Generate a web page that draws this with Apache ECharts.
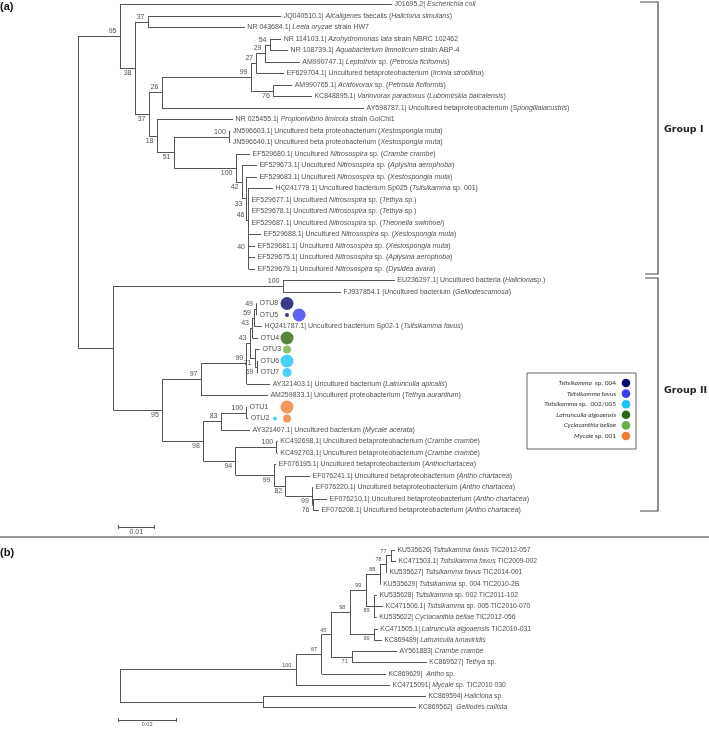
<!DOCTYPE html>
<html>
<head>
<meta charset="utf-8">
<script src="https://cdn.jsdelivr.net/npm/echarts@6/dist/echarts.min.js"></script>
<style>
  html, body { margin: 0; padding: 0; background: #fff; }
  #chart { width: 709px; height: 730px; }
</style>
</head>
<body>
<div id="chart"></div>
<script>
// ---------- tree (a): leaves, top to bottom ----------
const leafLabelsA = [
  'J01695.2| {i|Escherichia coli}',
  'JQ040510.1| {i|Alcaligenes} faecalis ({i|Haliclona simulans})',
  'NR 043684.1| {i|Leeia oryzae} strain HW7',
  'NR 114103.1| {i|Azohydromonas lata} strain NBRC 102462',
  'NR 108739.1| {i|Aquabacterium limnoticum} strain ABP-4',
  'AM990747.1| {i|Leptothrix} sp. ({i|Petrosia ficiformis})',
  'EF629704.1| Uncultured betaproteobacterium ({i|Ircinia strobilina})',
  'AM990765.1| {i|Acidovorax} sp. ({i|Petrosia ficiformis})',
  'KC848895.1| {i|Variovorax paradoxus} ({i|Lubomirskia baicalensis})',
  'AY598787.1| Uncultured betaproteobacterium ({i|Spongillalacustris})',
  'NR 025455.1| {i|Propionivibrio limicola} strain GolChi1',
  'JN596603.1| Uncultured beta proteobacterium ({i|Xestospongia muta})',
  'JN596640.1| Uncultured beta proteobacterium ({i|Xestospongia muta})',
  'EF529680.1| Uncultured {i|Nitrosospira} sp. ({i|Crambe crambe})',
  'EF529673.1| Uncultured {i|Nitrosospira} sp. ({i|Aplysina aerophoba})',
  'EF529683.1| Uncultured {i|Nitrosospira} sp. ({i|Xestospongia muta})',
  'HQ241779.1| Uncultured bacterium Sp025 ({i|Tsitsikamma} sp. 001)',
  'EF529677.1| Uncultured {i|Nitrosospira} sp. ({i|Tethya} sp.)',
  'EF529678.1| Uncultured {i|Nitrosospira} sp. ({i|Tethya} sp.)',
  'EF529687.1| Uncultured {i|Nitrosospira} sp. ({i|Theonella swinhoei})',
  'EF529688.1| Uncultured {i|Nitrosospira} sp. ({i|Xestospongia muta})',
  'EF529681.1| Uncultured {i|Nitrosospira} sp. ({i|Xestospongia muta})',
  'EF529675.1| Uncultured {i|Nitrosospira} sp. ({i|Aplysina aerophoba})',
  'EF529679.1| Uncultured {i|Nitrosospira} sp. ({i|Dysidea avara})',
  'EU236297.1| Uncultured bacteria ({i|Haliclona}sp.)',
  'FJ937854.1 |Uncultured bacterium ({i|Gelliodescamosa})',
  'OTU8',
  'OTU5',
  'HQ241787.1| Uncultured bacterium Sp02-1 ({i|Tsitsikamma favus})',
  'OTU4',
  'OTU3',
  'OTU6',
  'OTU7',
  'AY321403.1| Uncultured bacterium ({i|Latrunculia apicalis})',
  'AM259833.1| Uncultured proteobacterium ({i|Tethya aurantium})',
  'OTU1',
  'OTU2',
  'AY321407.1| Uncultured bacterium ({i|Mycale acerata})',
  'KC492698.1| Uncultured betaproteobacterium ({i|Crambe crambe})',
  'KC492703.1| Uncultured betaproteobacterium ({i|Crambe crambe})',
  'EF076195.1| Uncultured betaproteobacterium ({i|Anthochartacea})',
  'EF076241.1| Uncultured betaproteobacterium ({i|Antho chartacea})',
  'EF076220.1| Uncultured betaproteobacterium ({i|Antho chartacea})',
  'EF076210.1| Uncultured betaproteobacterium ({i|Antho chartacea})',
  'EF076208.1| Uncultured betaproteobacterium ({i|Antho chartacea})'
];
const leafParentA = ['A','D','D','T','T','S','P','Q','Q','F','G','J','J','K','L','M','N','N','N','N',
  'O','O','O','O','U','U','X49','X49','X59','X43','X71','X69','X69','Y','W','AC','AC','AA','AD','AD',
  'AE','AF','AG','AH','AH'];
// tip position (distance from root, substitutions/site)
const leafTipA = [0.0856,0.0554,0.0455,0.0554,0.0573,0.0605,0.0562,0.0584,0.0638,0.0780,
  0.0423,0.0415,0.0415,0.0469,0.0488,0.0488,0.0532,0.0466,0.0466,0.0466,
  0.0499,0.0483,0.0483,0.0483,0.0864,0.0717,0.0488,0.0488,0.0502,0.0491,
  0.0496,0.0491,0.0491,0.0524,0.0518,0.0461,0.0464,0.0469,0.0545,0.0545,
  0.0540,0.0633,0.0641,0.0679,0.0657];

// internal nodes of tree (a)
const nodeIdA = ['R','A','C','D','E','F','H','P','S','T','Q','G','I','J','K','L','M','N','O',
  'B','U','V','W','Y','Y43','X43','X59','X49','X71','X69','X','AA','AC','AB','AD','AE','AF','AG','AH'];
const nodeParentA = ['','R','A','C','C','E','F','H','P','S','H','E','G','I','I','K','L','M','N',
  'R','B','B','V','W','Y','Y43','X43','X59','Y43','X71','V','X','AA','X','AB','AB','AE','AF','AG'];
const nodeDepthA = [0,0.01145,0.01554,0.01909,0.01936,0.0229,0.04718,0.04873,0.0510,0.05236,0.05326,
  0.02154,0.02618,0.04126,0.04309,0.04472,0.04581,0.04636,0.0465,
  0.00963,0.0559,0.02299,0.03354,0.046,0.0469,0.04759,0.04813,0.04868,0.04827,0.04881,
  0.03417,0.039,0.046,0.043,0.05419,0.05345,0.05664,0.06389,0.06409];
const nodeBootA = ['',95,38,37,37,26,99,27,29,54,76,18,51,100,100,42,33,46,40,
  '',100,95,97,99,43,43,59,49,71,69,98,83,100,94,100,99,82,99,76];
const bootBelowA = ['C','E','G','I','K','L','M','Q','V','X','AB','AE','AF','AG','AH','X71','X69'];

// sponge OTU markers (leaf, species index, size, slot next to the label)
const markLeaf = ['OTU8','OTU5','OTU5','OTU4','OTU3','OTU6','OTU7','OTU1','OTU2','OTU2'];
const markSpecies = [0,0,1,3,4,2,2,5,2,5];
const markSize = [13,4,13,13,8,13,9,13,4,8];
const markSlot = [0,0,1,0,0,0,0,0,-1,0];

const speciesNames = ['{i|Tsitsikamma}  sp. 004','{i|Tsitsikamma favus}','{i|Tsitsikamma} sp.  002/005',
  '{i|Latrunculia algoaensis}','{i|Cyclacanthia bellae}','{i|Mycale} sp. 001'];
const speciesColors = ['#0a0a6e','#3c3cf2','#19c6f5','#2c6610','#6fae47','#ee7d31'];
const groupNames = ['Group I', 'Group II'];

// ---------- tree (b) ----------
const leafLabelsB = [
  'KU535626| {i|Tsitsikamma favus} TIC2012-057',
  'KC471503.1| {i|Tsitsikamma favus} TIC2009-002',
  'KU535627| {i|Tsitsikamma favus} TIC2014-001',
  'KU535629| {i|Tsitsikamma} sp. 004 TIC2010-2B',
  'KU535628| {i|Tsitsikamma} sp. 002 TIC2011-102',
  'KC471506.1| {i|Tsitsikamma} sp. 005 TIC2010-070',
  'KU535622| {i|Cyclacanthia bellae} TIC2012-056',
  'KC471505.1| {i|Latrunculia algoaensis} TIC2010-031',
  'KC869489| {i|Latrunculia lunaviridis}',
  'AY561883| {i|Crambe crambe}',
  'KC869527| {i|Tethya} sp.',
  'KC869629|  {i|Antho} sp.',
  'KC4715091| {i|Mycale} sp. TIC2010 030',
  'KC869594| {i|Haliclona} sp.',
  'KC869562|  {i|Gelliodes callista}'
];
const leafParentB = ['n77','n77','n78','n88','n89','n89','n89','Hb','Hb','Fb','Fb','Cb','Bb1','Bb2','Bb2'];
const leafTipB = [0.0943,0.0946,0.0915,0.0894,0.0881,0.0902,0.0880,0.0884,0.0898,0.0950,
  0.1052,0.0912,0.0926,0.1049,0.1015];
const nodeIdB = ['Rb','Bb1','Cb','Db','Eb','Gb','n88','n78','n77','n89','Hb','Fb','Bb2'];
const nodeParentB = ['','Rb','Bb1','Cb','Db','Eb','Gb','n88','n78','Gb','Eb','Db','Rb'];
const nodeDepthB = [0,0.0603,0.0691,0.0723,0.0788,0.0843,0.0891,0.0912,0.0929,0.0871,0.0871,0.0796,0.0491];
const nodeBootB = ['',100,67,45,98,99,88,78,77,89,99,71,''];
const bootBelowB = ['n89','Hb','Fb'];

// scale bars: [start, length, row]
const scaleA = [0.0109, 0.01, 45.43];
const scaleB = [-0.0007, 0.02, 15.1];

const FONT = '"Liberation Sans", Arial, sans-serif';
const LINE = '#555';
const TEXT = '#222';

function layoutTree(ids, parents, depths, leafParent, leafTip) {
  const kids = {};
  const depth = {};
  ids.forEach((id, i) => { kids[id] = []; depth[id] = depths[i]; });
  leafParent.forEach((p, i) => kids[p].push({ leaf: i }));
  parents.forEach((p, i) => { if (p) kids[p].push({ node: ids[i] }); });
  const yOf = {};
  function y(id) {
    if (yOf[id] === undefined) {
      const ys = kids[id].map(k => k.leaf !== undefined ? k.leaf : y(k.node));
      yOf[id] = (Math.min(...ys) + Math.max(...ys)) / 2;
    }
    return yOf[id];
  }
  const segs = [];
  ids.forEach((id, i) => {
    const ys = kids[id].map(k => k.leaf !== undefined ? k.leaf : y(k.node));
    segs.push({ coords: [[depth[id], Math.min(...ys)], [depth[id], Math.max(...ys)]] });
    if (parents[i]) segs.push({ coords: [[depth[parents[i]], y(id)], [depth[id], y(id)]] });
  });
  leafParent.forEach((p, i) => segs.push({ coords: [[depth[p], i], [leafTip[i], i]] }));
  return { y, depth, segs };
}

function scaleSegs(s) {
  const [x0, len, row] = s;
  return [
    { coords: [[x0, row], [x0 + len, row]] },
    { coords: [[x0, row - 0.17], [x0, row + 0.17]] },
    { coords: [[x0 + len, row - 0.17], [x0 + len, row + 0.17]] }
  ];
}

const treeA = layoutTree(nodeIdA, nodeParentA, nodeDepthA, leafParentA, leafTipA);
const treeB = layoutTree(nodeIdB, nodeParentB, nodeDepthB, leafParentB, leafTipB);

function leafSeries(labels, tips, gi, size) {
  return {
    type: 'scatter', xAxisIndex: gi, yAxisIndex: gi, symbolSize: 1, silent: true,
    itemStyle: { color: 'rgba(0,0,0,0)' },
    label: {
      show: true, position: 'right', distance: 2, formatter: p => p.name,
      fontSize: size, fontFamily: FONT, color: TEXT,
      rich: { i: { fontStyle: 'italic', fontSize: size, fontFamily: FONT, color: TEXT } }
    },
    data: labels.map((l, i) => ({ name: l, value: [tips[i], i] }))
  };
}

function bootSeries(tree, ids, boots, below, gi, size, dist, dy) {
  const data = [];
  ids.forEach((id, i) => {
    if (boots[i] === '') return;
    data.push({
      name: String(boots[i]), value: [tree.depth[id], tree.y(id)],
      label: { offset: [0, below.includes(id) ? dy : -dy] }
    });
  });
  return {
    type: 'scatter', xAxisIndex: gi, yAxisIndex: gi, symbolSize: 1, silent: true,
    itemStyle: { color: 'rgba(0,0,0,0)' },
    label: { show: true, position: 'left', distance: dist, formatter: '{b}',
      fontSize: size, fontFamily: FONT, color: TEXT },
    data
  };
}

const markCol = 0.0570;
const markStep = 0.0033;
const markData = markLeaf.map((l, i) => ({
  value: [markCol + markSlot[i] * markStep, leafLabelsA.indexOf(l)],
  symbolSize: markSize[i],
  itemStyle: { color: speciesColors[markSpecies[i]] }
}));

const legendX = 527, legendY = 373, legendW = 109, legendH = 76, legendRow = 10.6;
const groupFont = 'bold 9.5px "DejaVu Sans", sans-serif';
const graphics = [
  { type: 'text', left: 0, top: 1, style: { text: '(a)', font: 'bold 11px ' + FONT, fill: '#111' } },
  { type: 'text', left: 0, top: 547, style: { text: '(b)', font: 'bold 11px ' + FONT, fill: '#111' } },
  { type: 'line', shape: { x1: 0, y1: 537, x2: 709, y2: 537 }, style: { stroke: '#777', lineWidth: 1.5 } },
  { type: 'polyline', shape: { points: [[640, 2], [658, 2], [658, 274], [645, 274]] },
    style: { stroke: '#444', lineWidth: 1.2, fill: null } },
  { type: 'polyline', shape: { points: [[645, 278], [658, 278], [658, 511], [640, 511]] },
    style: { stroke: '#444', lineWidth: 1.2, fill: null } },
  { type: 'text', x: 664, y: 130, style: { text: groupNames[0], font: groupFont, fill: '#222', verticalAlign: 'middle' } },
  { type: 'text', x: 664, y: 391, style: { text: groupNames[1], font: groupFont, fill: '#222', verticalAlign: 'middle' } },
  { type: 'rect', shape: { x: legendX, y: legendY, width: legendW, height: legendH },
    style: { stroke: '#666', fill: '#fff', lineWidth: 1 } }
];
speciesNames.forEach((n, i) => {
  const cy = legendY + 10 + i * legendRow;
  graphics.push({
    type: 'text', x: legendX + 89, y: cy,
    style: { text: n, align: 'right', verticalAlign: 'middle', fontSize: 6.5, fontFamily: 'Lato, sans-serif', fill: '#333',
      rich: { i: { fontStyle: 'italic', fontSize: 6.5, fontFamily: 'Lato, sans-serif', fill: '#333' } } }
  });
  graphics.push({
    type: 'circle', shape: { cx: legendX + 99, cy: cy, r: 4.3 }, style: { fill: speciesColors[i] }
  });
});

const chart = echarts.init(document.getElementById('chart'));
chart.setOption({
  animation: false,
  backgroundColor: '#fff',
  grid: [
    { left: 78, top: 4.5, width: 0.17 * 3667, height: 46 * 11.5 },
    { left: 120 - 0.002 * 2917, top: 550, width: 0.202 * 2917, height: 16 * 11.26 }
  ],
  xAxis: [
    { type: 'value', gridIndex: 0, min: 0, max: 0.17, show: false },
    { type: 'value', gridIndex: 1, min: -0.002, max: 0.2, show: false }
  ],
  yAxis: [
    { type: 'value', gridIndex: 0, min: 0, max: 46, inverse: true, show: false },
    { type: 'value', gridIndex: 1, min: 0, max: 16, inverse: true, show: false }
  ],
  graphic: graphics,
  series: [
    { type: 'lines', coordinateSystem: 'cartesian2d', xAxisIndex: 0, yAxisIndex: 0, silent: true,
      lineStyle: { color: LINE, width: 1, opacity: 1 }, data: treeA.segs.concat(scaleSegs(scaleA)) },
    { type: 'lines', coordinateSystem: 'cartesian2d', xAxisIndex: 1, yAxisIndex: 1, silent: true,
      lineStyle: { color: LINE, width: 1, opacity: 1 }, data: treeB.segs.concat(scaleSegs(scaleB)) },
    leafSeries(leafLabelsA, leafTipA, 0, 7),
    leafSeries(leafLabelsB, leafTipB, 1, 6.8),
    bootSeries(treeA, nodeIdA, nodeBootA, bootBelowA, 0, 7, 3, 5),
    bootSeries(treeB, nodeIdB, nodeBootB, bootBelowB, 1, 5.5, 4, 4.5),
    { type: 'scatter', xAxisIndex: 0, yAxisIndex: 0, silent: true, symbol: 'circle', data: markData },
    { type: 'scatter', xAxisIndex: 0, yAxisIndex: 0, symbolSize: 1, silent: true,
      itemStyle: { color: 'rgba(0,0,0,0)' },
      label: { show: true, position: 'bottom', distance: 1, formatter: '{b}', fontSize: 7, fontFamily: FONT, color: TEXT },
      data: [{ name: String(scaleA[1]), value: [scaleA[0] + scaleA[1] / 2, scaleA[2]] }] },
    { type: 'scatter', xAxisIndex: 1, yAxisIndex: 1, symbolSize: 1, silent: true,
      itemStyle: { color: 'rgba(0,0,0,0)' },
      label: { show: true, position: 'bottom', distance: 1, formatter: '{b}', fontSize: 5.5, fontFamily: FONT, color: TEXT },
      data: [{ name: String(scaleB[1]), value: [scaleB[0] + scaleB[1] / 2, scaleB[2]] }] }
  ]
});
</script>
</body>
</html>
